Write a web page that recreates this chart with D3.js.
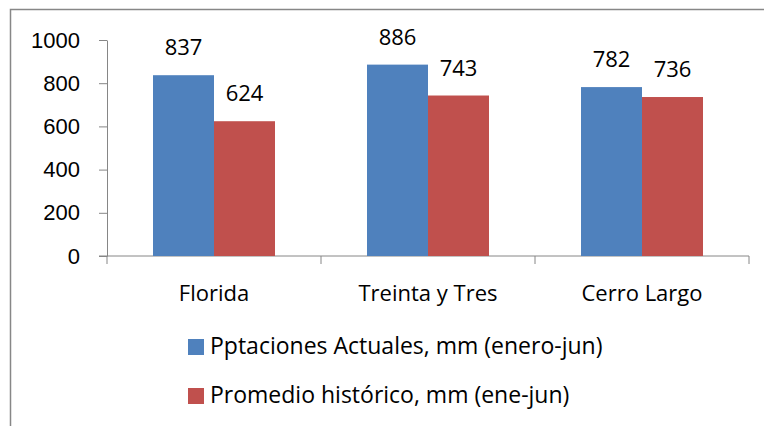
<!DOCTYPE html>
<html>
<head>
<meta charset="utf-8">
<script src="https://cdn.jsdelivr.net/npm/d3@7"></script>
<style>
  body { margin: 0; background: #fff; }
  svg { display: block; font-family: 'Open Sans', sans-serif; }
  .axis path, .axis line { stroke: #868686; }
  .axis text { fill: #000; font-size: 22px; }
</style>
</head>
<body>
<div id="chart"></div>
<script>
const categories = ['Florida', 'Treinta y Tres', 'Cerro Largo'];
const seriesNames = ['Pptaciones Actuales, mm (enero-jun)', 'Promedio histórico, mm (ene-jun)'];
const actuales = [837, 886, 782];
const historico = [624, 743, 736];
const yTicks = [0, 200, 400, 600, 800, 1000];
const colors = ['#4F81BD', '#C0504D'];

const width = 764, height = 426;
const margin = {top: 40, left: 107};
const plotW = 749 - margin.left;
const plotH = 256 - margin.top;

const svg = d3.select('#chart').append('svg')
  .attr('width', width)
  .attr('height', height);

// chart frame (cropped on right/bottom)
svg.append('rect')
  .attr('x', 10.5).attr('y', 9.5)
  .attr('width', 800).attr('height', 500)
  .attr('fill', 'none')
  .attr('stroke', '#878787')
  .attr('stroke-width', 1.5);

const g = svg.append('g').attr('transform', `translate(${margin.left},${margin.top})`);

const x = d3.scaleBand().domain(categories).range([0, plotW]);
// two bars of ~61px each inside a 214px band
const barW = 61;
const x1 = d3.scaleBand().domain([0, 1]).range([0, x.bandwidth()])
  .paddingInner(0).paddingOuter((x.bandwidth() / barW - 2) / 2);
const y = d3.scaleLinear().domain([0, 1000]).range([plotH, 0]);

// y axis
const yAxis = g.append('g').attr('class', 'axis')
  .call(d3.axisLeft(y).tickValues(yTicks).tickFormat(d3.format('d'))
    .tickSize(8).tickSizeOuter(0).tickPadding(19));

// x axis with ticks on band boundaries
const xAxis = g.append('g').attr('class', 'axis')
  .attr('transform', `translate(0,${plotH})`);
xAxis.append('line').attr('x1', -8).attr('x2', plotW).attr('y1', 0).attr('y2', 0).attr('stroke', '#868686');
const bounds = categories.map(c => x(c)).concat([plotW]);
xAxis.selectAll('.tick-b').data(bounds).enter().append('line')
  .attr('x1', d => d).attr('x2', d => d)
  .attr('y1', 0).attr('y2', 8)
  .attr('stroke', '#868686');
xAxis.selectAll('.cat').data(categories).enter().append('text')
  .attr('x', d => x(d) + x.bandwidth() / 2)
  .attr('y', 45)
  .attr('text-anchor', 'middle')
  .text(d => d);

// bars
const series = [actuales, historico];
series.forEach((vals, si) => {
  g.selectAll('.bar-' + si).data(vals).enter().append('rect')
    .attr('class', 'bar-' + si)
    .attr('x', (d, i) => x(categories[i]) + x1(si))
    .attr('y', d => y(d))
    .attr('width', x1.bandwidth())
    .attr('height', d => plotH - y(d))
    .attr('fill', colors[si]);

  g.selectAll('.lbl-' + si).data(vals).enter().append('text')
    .attr('x', (d, i) => x(categories[i]) + x1(si) + x1.bandwidth() / 2)
    .attr('y', d => y(d) - 20)
    .attr('text-anchor', 'middle')
    .style('font-size', '22px')
    .text(d => d);
});

// legend
const legend = svg.append('g').attr('transform', 'translate(188,339)');
seriesNames.forEach((name, i) => {
  const row = legend.append('g').attr('transform', `translate(0,${i * 49})`);
  row.append('rect').attr('width', 16).attr('height', 16).attr('fill', colors[i]);
  row.append('text').attr('x', 22).attr('y', 15).style('font-size', '23px').text(name);
});
</script>
</body>
</html>
